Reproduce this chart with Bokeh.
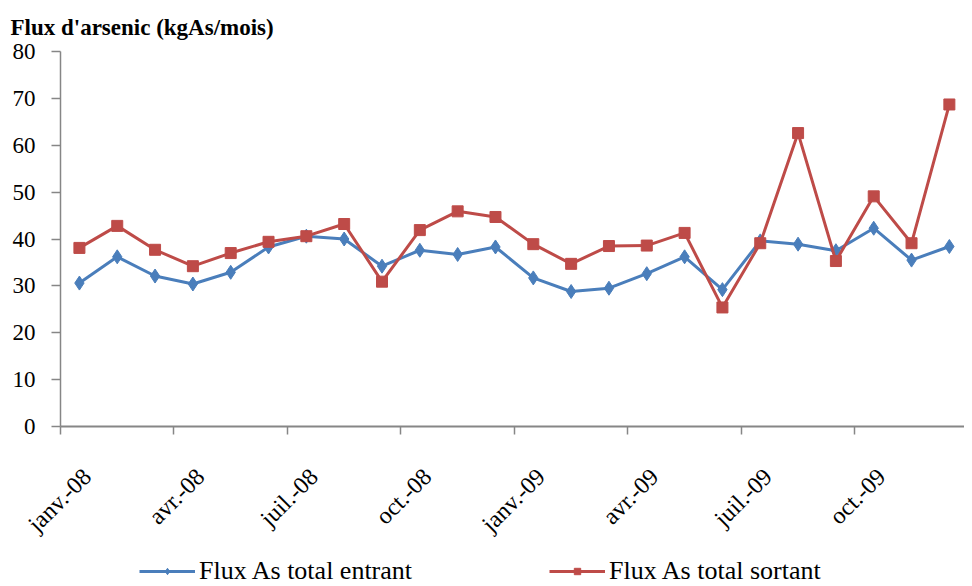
import math
from bokeh.plotting import figure
from bokeh.layouts import column
from bokeh.models import FixedTicker, Legend, LegendItem, Range1d, Title, LinearAxis
from bokeh.embed import file_html
from bokeh.resources import INLINE

# Monthly data, janv.-08 .. déc.-09
months = list(range(24))
entrant = [30.6, 36.2, 32.1, 30.4, 32.9, 38.3, 40.6, 40.0, 34.2, 37.6, 36.7, 38.3,
           31.7, 28.8, 29.5, 32.6, 36.2, 29.2, 39.6, 38.9, 37.5, 42.3, 35.5, 38.4]
sortant = [38.1, 42.8, 37.7, 34.2, 37.0, 39.4, 40.6, 43.2, 30.9, 41.9, 45.9, 44.7,
           38.9, 34.7, 38.5, 38.6, 41.3, 25.4, 39.1, 62.6, 35.3, 49.1, 39.1, 68.7]
tick_pos = [0, 3, 6, 9, 12, 15, 18, 21]
tick_labels = ["janv.-08", "avr.-08", "juil.-08", "oct.-08",
               "janv.-09", "avr.-09", "juil.-09", "oct.-09"]
y_ticks = [0, 10, 20, 30, 40, 50, 60, 70, 80]

x_vals = [m + 0.5 for m in months]

FONT = "Liberation Serif"
BLUE = "#4A7EBB"
RED = "#BE4B48"
GREY = "#868686"

p = figure(width=964, height=548, output_backend="svg", toolbar_location=None,
           x_range=Range1d(0, 23.9), y_range=Range1d(0, 80),
           min_border_left=60, min_border_right=0, min_border_top=0,
           min_border_bottom=0)
p.outline_line_color = None
p.xgrid.visible = False
p.ygrid.visible = False

t = Title(text="Flux d'arsenic (kgAs/mois)", text_font=FONT, text_font_size="23px",
          text_font_style="bold", text_color="black",
          align="left", offset=-50, standoff=24)
p.add_layout(t, "above")

l1 = p.line(x_vals, entrant, line_color=BLUE, line_width=3)
s1 = p.scatter(x_vals, entrant, marker="diamond", size=14, fill_color=BLUE, line_color=BLUE)
l2 = p.line(x_vals, sortant, line_color=RED, line_width=3)
s2 = p.scatter(x_vals, sortant, marker="square", size=11, fill_color=RED, line_color=RED)

xa = p.xaxis[0]
xa.ticker = FixedTicker(ticks=tick_pos)
xa.major_label_overrides = {tp: "" for tp in tick_pos}
xa.major_label_text_font_size = "0px"
xa.major_label_standoff = 0
xa.axis_line_color = GREY
xa.axis_line_width = 2
xa.major_tick_line_color = GREY
xa.major_tick_line_width = 1.5
xa.major_tick_out = 8
xa.major_tick_in = 0
xa.minor_tick_line_color = None

# label axis: labels shifted slightly right of the tick marks, as in the reference
label_pos = [round(tp + 0.7, 2) for tp in tick_pos]
xl = LinearAxis(ticker=FixedTicker(ticks=label_pos),
                major_label_overrides={lp: lab for lp, lab in zip(label_pos, tick_labels)},
                major_label_orientation=math.pi / 4,
                major_label_text_font=FONT, major_label_text_font_size="24px",
                major_label_text_color="black", major_label_standoff=32,
                axis_line_color=None, major_tick_line_color=None,
                minor_tick_line_color=None)
p.add_layout(xl, "below")

ya = p.yaxis[0]
ya.ticker = FixedTicker(ticks=y_ticks)
ya.major_label_text_font = FONT
ya.major_label_text_font_size = "23px"
ya.major_label_text_color = "black"
ya.major_label_standoff = 16
ya.axis_line_color = GREY
ya.axis_line_width = 1.5
ya.major_tick_line_color = GREY
ya.major_tick_line_width = 1.5
ya.major_tick_out = 9
ya.major_tick_in = 0
ya.minor_tick_line_color = None

# legend in its own strip below the chart (its frame is aligned with the chart's frame)
lf = figure(width=964, height=38, output_backend="svg", toolbar_location=None,
            x_range=Range1d(0, 1), y_range=Range1d(0, 1),
            min_border_left=0, min_border_right=0, min_border_top=0, min_border_bottom=0)
lf.axis.visible = False
lf.grid.visible = False
lf.outline_line_color = None
d1 = lf.line([-5, -4], [-5, -4], line_color=BLUE, line_width=3)
d2 = lf.scatter([-5], [-5], marker="diamond", size=14, fill_color=BLUE, line_color=BLUE)
d3 = lf.line([-5, -4], [-5, -4], line_color=RED, line_width=3)
d4 = lf.scatter([-5], [-5], marker="square", size=11, fill_color=RED, line_color=RED)
legend = Legend(items=[LegendItem(label="Flux As total entrant", renderers=[d1, d2]),
                       LegendItem(label="Flux As total sortant", renderers=[d3, d4])],
                orientation="horizontal", location=(79, 0),
                label_text_font=FONT, label_text_font_size="26px", label_text_color="black",
                glyph_width=56, glyph_height=16, label_height=16, spacing=137,
                border_line_color=None, background_fill_alpha=0,
                padding=0, margin=0, label_standoff=4)
lf.add_layout(legend)

open("out.html", "w").write(file_html(column(p, lf, spacing=0), INLINE))
